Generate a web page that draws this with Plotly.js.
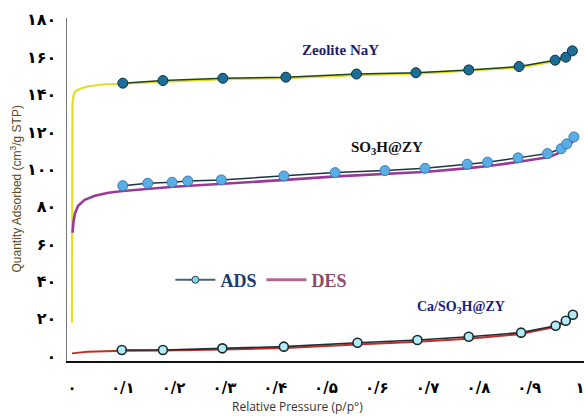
<!DOCTYPE html>
<html>
<head>
<meta charset="utf-8">
<script src="https://cdn.plot.ly/plotly-3.0.1.min.js"></script>
<style>html,body{margin:0;padding:0;background:#fff;}#chart{width:584px;height:416px;}</style>
</head>
<body>
<div id="chart"></div>
<script>
// Relative pressure tick values and Persian tick labels
const xTickVals = [0, 0.1, 0.2, 0.3, 0.4, 0.5, 0.6, 0.7, 0.8, 0.9, 1];
const xTickText = ['۰', '۰/۱', '۰/۲', '۰/۳', '۰/۴', '۰/۵', '۰/۶', '۰/۷', '۰/۸', '۰/۹', '۱'];
const yTickVals = [0, 20, 40, 60, 80, 100, 120, 140, 160, 180];
const yTickText = ['۰', '۲۰', '۴۰', '۶۰', '۸۰', '۱۰۰', '۱۲۰', '۱۴۰', '۱۶۰', '۱۸۰'];

// Zeolite NaY
const zeoAdsX = [0.100, 0.179, 0.297, 0.421, 0.560, 0.677, 0.781, 0.880, 0.951, 0.972, 0.985];
const zeoAdsY = [146.1, 147.5, 148.7, 149.3, 151.0, 151.7, 153.2, 155.0, 158.4, 160.0, 163.4];
const zeoDesX = [0.000, 0.000, 0.001, 0.003, 0.006, 0.015, 0.030, 0.060, 0.100, 0.180, 0.300, 0.420, 0.560, 0.680, 0.780, 0.880, 0.950, 0.970, 0.985];
const zeoDesY = [18, 100, 135, 139.5, 141.6, 143.0, 144.3, 145.4, 145.8, 147.0, 148.2, 148.8, 150.4, 151.2, 152.6, 154.4, 157.8, 159.4, 162.8];

// SO3H@ZY
const so3AdsX = [0.100, 0.149, 0.197, 0.228, 0.294, 0.417, 0.518, 0.616, 0.695, 0.778, 0.818, 0.878, 0.936, 0.963, 0.974, 0.988];
const so3AdsY = [91.2, 92.5, 93.0, 93.7, 94.3, 96.4, 98.2, 99.3, 100.5, 102.7, 103.8, 106.1, 108.4, 111.0, 113.6, 117.3];
const so3DesX = [0.001, 0.003, 0.006, 0.012, 0.025, 0.045, 0.072, 0.100, 0.200, 0.300, 0.420, 0.520, 0.620, 0.700, 0.780, 0.820, 0.880, 0.940, 0.965, 0.988];
const so3DesY = [66, 72, 76.5, 80.5, 83.6, 85.8, 87.4, 88.4, 90.6, 92.2, 94.3, 96.2, 97.4, 98.7, 100.6, 101.7, 104.0, 106.6, 109.5, 115.5];

// Ca/SO3H@ZY
const caAdsX = [0.098, 0.179, 0.296, 0.417, 0.562, 0.680, 0.781, 0.884, 0.952, 0.972, 0.986];
const caAdsY = [3.2, 3.2, 4.1, 5.0, 7.1, 8.6, 10.3, 12.5, 16.2, 18.9, 22.1];
const caDesX = [0.000, 0.030, 0.100, 0.180, 0.300, 0.420, 0.560, 0.680, 0.780, 0.880, 0.950, 0.970, 0.985];
const caDesY = [1.4, 2.3, 2.8, 2.9, 3.5, 4.3, 6.2, 7.6, 9.3, 11.6, 15.5, 18.0, 21.0];

const traces = [
  {x: zeoDesX, y: zeoDesY, mode: 'lines', line: {color: '#e2dc2a', width: 2.2}, showlegend: false, hoverinfo: 'skip'},
  {x: so3DesX, y: so3DesY, mode: 'lines', line: {color: '#9a3a98', width: 2.6}, showlegend: false, hoverinfo: 'skip'},
  {x: caDesX, y: caDesY, mode: 'lines', line: {color: '#c0302a', width: 2}, showlegend: false, hoverinfo: 'skip'},
  {x: zeoAdsX, y: zeoAdsY, mode: 'lines+markers', line: {color: '#23431f', width: 1.5},
   marker: {size: 10, color: '#1b6f96', line: {color: '#0c3042', width: 1}}, showlegend: false},
  {x: so3AdsX, y: so3AdsY, mode: 'lines+markers', line: {color: '#1d3344', width: 1.5},
   marker: {size: 10, color: '#5aaee6', line: {color: '#3b7db5', width: 1}}, showlegend: false},
  {x: caAdsX, y: caAdsY, mode: 'lines+markers', line: {color: '#1e2f36', width: 1.6},
   marker: {size: 9, color: '#b0ecfa', line: {color: '#1a2a2a', width: 1.6}}, showlegend: false},
  // legend entries
  {x: [null], y: [null], mode: 'lines+markers', name: '<b><span style="color:#1c3a6e">ADS</span></b>',
   line: {color: '#4a6275', width: 2}, marker: {size: 7, color: '#7fd8f0', line: {color: '#2a4050', width: 1}}},
  {x: [null], y: [null], mode: 'lines', name: '<b><span style="color:#8c4a6c">DES</span></b>',
   line: {color: '#b06890', width: 3}}
];

const layout = {
  width: 584, height: 416,
  margin: {l: 67, r: 0, t: 18, b: 55},
  paper_bgcolor: '#ffffff', plot_bgcolor: '#ffffff',
  showlegend: true,
  legend: {orientation: 'h', x: 0.2, xanchor: 'left', y: 0.236, yanchor: 'middle',
           bgcolor: 'rgba(0,0,0,0)', font: {family: 'Liberation Serif, serif', size: 18},
           itemwidth: 40, tracegroupgap: 0},
  xaxis: {range: [-0.00984, 1.00787], tickvals: xTickVals, ticktext: xTickText,
          showgrid: false, zeroline: false, showline: true, linecolor: '#111', linewidth: 1.5,
          ticks: '', ticklabelstandoff: 12, ticklabeloverflow: 'allow',
          tickfont: {family: 'DejaVu Sans', size: 15, color: '#000', weight: 'bold'}},
  yaxis: {range: [-2.68, 181], tickvals: yTickVals, ticktext: yTickText,
          showgrid: false, zeroline: false, showline: true, linecolor: '#777', linewidth: 1.5,
          ticks: '', ticklabelstandoff: 6, ticklabeloverflow: 'allow',
          tickfont: {family: 'DejaVu Sans', size: 16, color: '#000', weight: 'bold'}},
  annotations: [
    {xref: 'paper', yref: 'paper', x: (15 - 67) / 517, y: 0.5, xanchor: 'center', yanchor: 'middle',
     textangle: -90, showarrow: false,
     text: 'Quantity Adsorbed (cm<sup>3</sup>/g STP)', font: {family: 'Liberation Sans, Arial', size: 12, color: '#5a4a18'}},
    {xref: 'paper', yref: 'paper', x: (297 - 67) / 517, y: (361 - 406) / 343, xanchor: 'center', yanchor: 'middle',
     showarrow: false,
     text: 'Relative Pressure (p/p°)', font: {family: 'Open Sans', size: 12, color: '#333'}},
    {xref: 'x', yref: 'y', x: 0.528, y: 163.9, xanchor: 'center', yanchor: 'middle', showarrow: false,
     text: '<b>Zeolite NaY</b>', font: {family: 'Liberation Serif, serif', size: 15, color: '#1c1c6a'}},
    {xref: 'x', yref: 'y', x: 0.62, y: 111.3, xanchor: 'center', yanchor: 'middle', showarrow: false,
     text: '<b>SO<sub>3</sub>H@ZY</b>', font: {family: 'Liberation Serif, serif', size: 15, color: '#111'}},
    {xref: 'x', yref: 'y', x: 0.766, y: 26.2, xanchor: 'center', yanchor: 'middle', showarrow: false,
     text: '<b>Ca/SO<sub>3</sub>H@ZY</b>', font: {family: 'Liberation Serif, serif', size: 14, color: '#1c1c7a'}}
  ]
};

Plotly.newPlot('chart', traces, layout, {staticPlot: true, displayModeBar: false});
</script>
</body>
</html>
